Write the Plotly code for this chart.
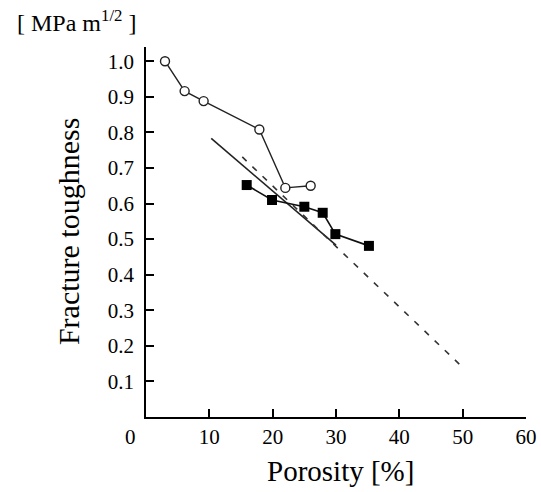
import plotly.graph_objects as go

# Data
open_x = [3.0, 6.1, 9.1, 17.9, 22.0, 26.0]
open_y = [1.0, 0.916, 0.888, 0.808, 0.644, 0.650]

sq_x = [15.9, 19.9, 25.0, 27.9, 29.9, 35.2]
sq_y = [0.652, 0.610, 0.591, 0.574, 0.514, 0.481]

solid_x = [10.3, 30.0]
solid_y = [0.783, 0.483]

dash_x = [15.2, 49.8]
dash_y = [0.731, 0.143]

x_ticks = [10, 20, 30, 40, 50, 60]
y_ticks = [0.1, 0.2, 0.3, 0.4, 0.5, 0.6, 0.7, 0.8, 0.9, 1.0]

FONT = "Liberation Serif"
TICK_SIZE = 21

fig = go.Figure()
fig.add_trace(go.Scatter(x=solid_x, y=solid_y, mode="lines",
                         line=dict(color="#222", width=1.6), showlegend=False))
fig.add_trace(go.Scatter(x=dash_x, y=dash_y, mode="lines",
                         line=dict(color="#333", width=1.6, dash="6px,8px"), showlegend=False))
fig.add_trace(go.Scatter(x=open_x, y=open_y, mode="lines+markers",
                         line=dict(color="#222", width=1.4),
                         marker=dict(symbol="circle", size=9, color="white",
                                     line=dict(color="#222", width=1.4)),
                         showlegend=False))
fig.add_trace(go.Scatter(x=sq_x, y=sq_y, mode="lines+markers",
                         line=dict(color="#111", width=1.6),
                         marker=dict(symbol="square", size=10, color="black",
                                     line=dict(color="black", width=0)),
                         showlegend=False))

fig.update_layout(
    template="none",
    width=541, height=492,
    margin=dict(l=146, r=15, t=47, b=75, autoexpand=False),
    paper_bgcolor="white", plot_bgcolor="white",
    font=dict(family=FONT, color="black", size=TICK_SIZE),
    xaxis=dict(range=[0, 60], tickvals=x_ticks, ticks="inside", ticklen=8,
               tickwidth=1.5, tickcolor="black", showline=True, linecolor="black",
               linewidth=1.8, showgrid=False, zeroline=False, automargin=False,
               tickfont=dict(size=TICK_SIZE, family=FONT)),
    yaxis=dict(range=[0, 1.04], tickvals=y_ticks, tickformat=".1f", ticks="inside",
               ticklen=8, tickwidth=1.5, tickcolor="black", showline=True,
               linecolor="black", linewidth=1.8, showgrid=False, zeroline=False,
               automargin=False, ticklabelstandoff=6,
               tickfont=dict(size=TICK_SIZE, family=FONT)),
    annotations=[
        dict(text="0", xref="paper", yref="paper", x=-0.04, y=-0.055,
             showarrow=False, font=dict(size=TICK_SIZE, family=FONT), xanchor="center", yanchor="middle"),
        dict(text="Porosity [%]", xref="paper", yref="paper", x=0.512, y=-0.145,
             showarrow=False, font=dict(size=29, family=FONT), xanchor="center", yanchor="middle"),
        dict(text="Fracture toughness", xref="paper", yref="paper", x=-0.205, y=0.5,
             textangle=-90, showarrow=False, font=dict(size=30, family=FONT),
             xanchor="center", yanchor="middle"),
        dict(text="[ MPa m<sup>1/2</sup> ]", xref="paper", yref="paper", x=-0.022, y=1.07,
             showarrow=False, font=dict(size=24, family=FONT), xanchor="right", yanchor="middle"),
    ],
)

fig.write_html("out.html", config={"displayModeBar": False},
               post_script="document.body.style.margin='0';")
